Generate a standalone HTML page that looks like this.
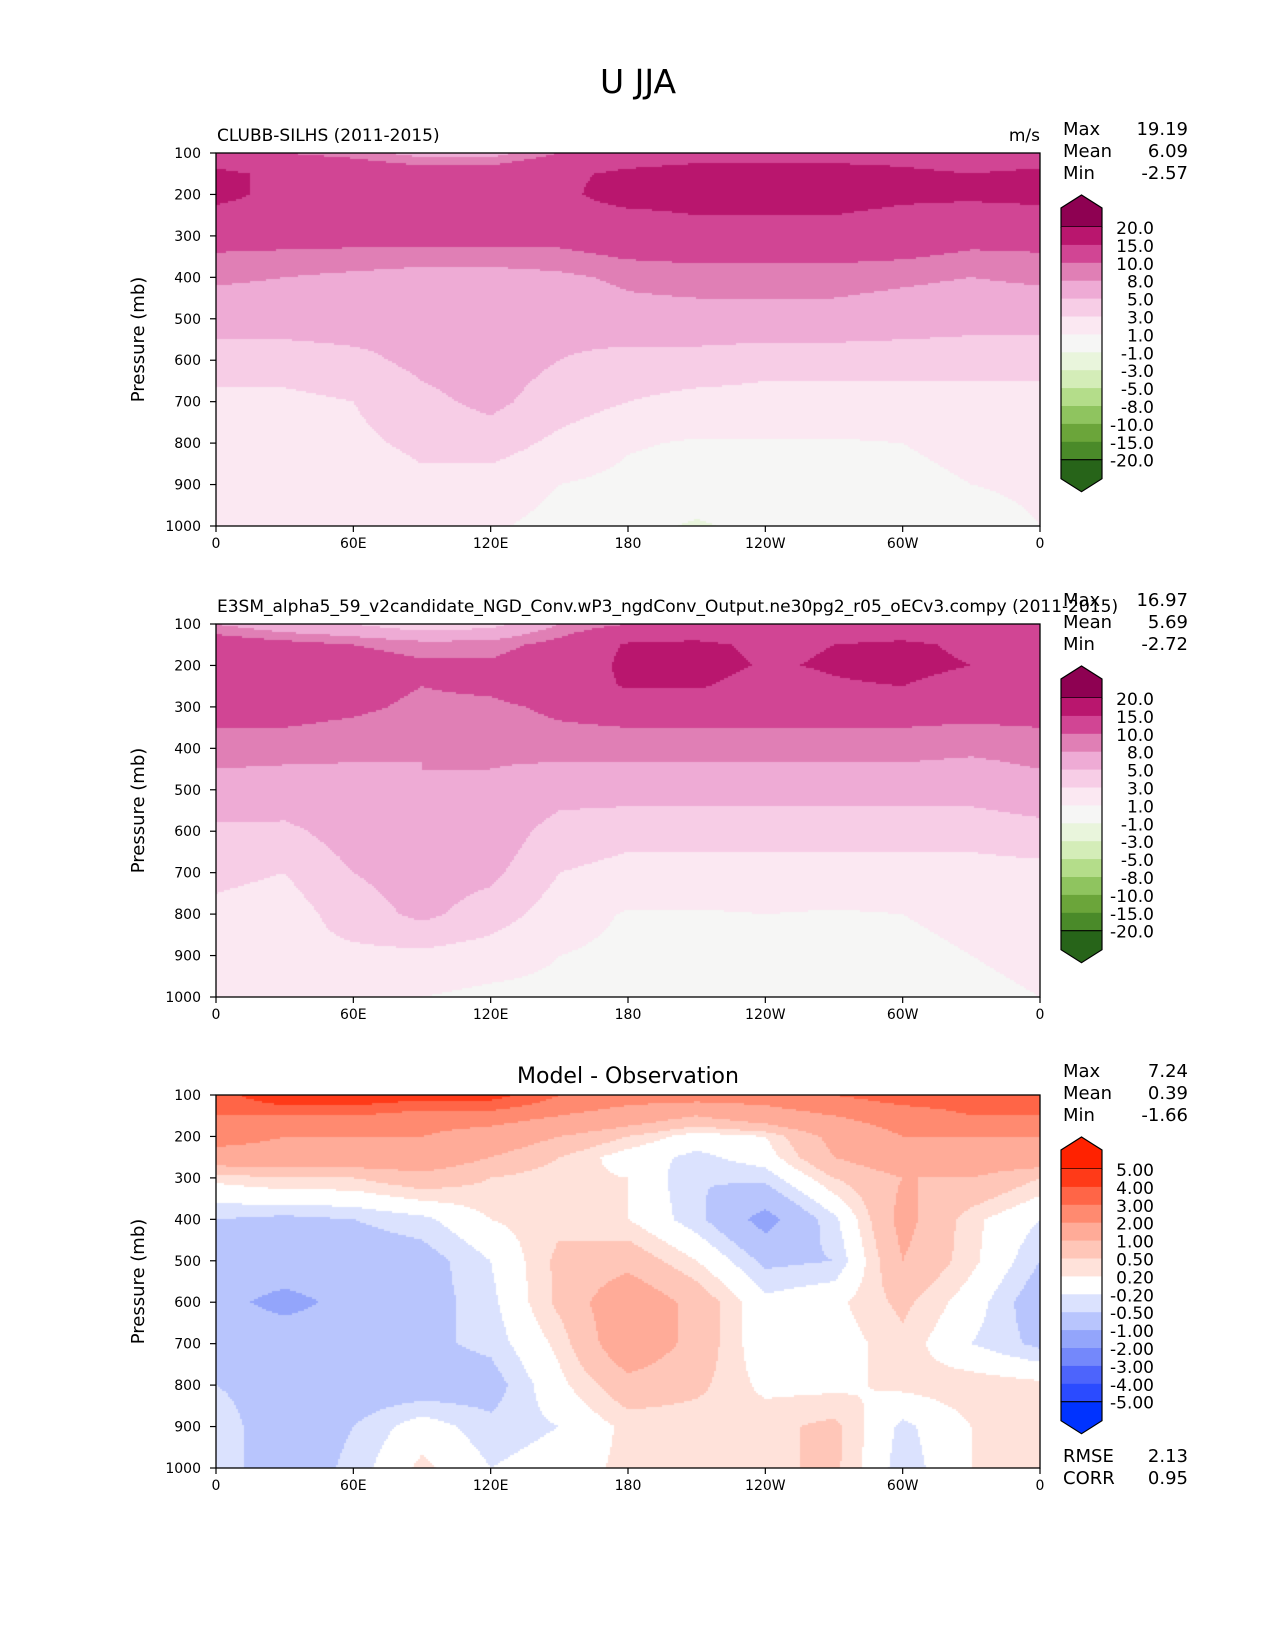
<!DOCTYPE html>
<html><head><meta charset="utf-8"><style>
html,body{margin:0;padding:0;background:#fff}
#wrap{position:relative;width:1275px;height:1650px;font-family:"DejaVu Sans","Liberation Sans",sans-serif}
canvas{position:absolute}
svg{position:absolute;left:0;top:0}
</style></head><body>
<div id="wrap">
<canvas id="c1" width="824" height="373" style="left:216px;top:153px"></canvas>
<canvas id="c2" width="824" height="373" style="left:216px;top:624px"></canvas>
<canvas id="c3" width="824" height="373" style="left:216px;top:1095px"></canvas>
<svg id="s" width="1275" height="1650"></svg>
</div>
<script>
const lons=[0,30,60,90,120,150,180,210,240,270,300,330,360];
const levels=[100,150,200,250,300,400,500,600,700,800,900,1000];
const xTickLabels=["0","60E","120E","180","120W","60W","0"];
const yTickLabels=["100","200","300","400","500","600","700","800","900","1000"];
const uLevels=[20,15,10,8,5,3,1,-1,-3,-5,-8,-10,-15,-20];
const uColors=["#8e0152","#b9166e","#d14594","#e07fb5","#eeabd5","#f7cde6","#fbe8f2","#f6f6f5","#e9f5dc","#d4edb8","#b4dd8a","#8fc45f","#6ba53a","#4a8a29","#276419"];
const dLevels=[5,4,3,2,1,0.5,0.2,-0.2,-0.5,-1,-2,-3,-4,-5];
const dColors=["#ff2200","#ff3a18","#ff6547","#ff8a70","#ffab98","#ffc6b8","#ffe2da","#ffffff","#dbe2fe","#b8c5fd","#93a5fb","#7488fb","#4d64fc","#2b4bff","#0033ff"];
const obs=[
[12,10,9,7,7,10,12,13,13,13,13,12,12],
[16,14,13,12,12,14,16,17,17,17,16,15,16],
[17,13,13,12,12,14,17,17,17,17,16,16,17],
[13,12,12,12,12,13,14,15,15,15,14,13,13],
[11,11,11,11,11,11,12,12,12,12,12,11,11],
[8.5,8,7.5,7,7,7.5,8.5,9,9,9,8.5,8,8.5],
[6,6,6,5.5,5.5,6,7,7,7,7,6.5,6,6],
[4,4,4.5,5.5,6,5,4,4,3.5,3.5,3.5,3.5,3.5],
[2.5,2.5,3,4.5,5.5,4,3,2.5,2.5,2.5,2.5,2.5,2.5],
[2,2,2.5,3.5,4,2.5,1.2,0.8,0.8,0.8,1,1.5,2],
[1.5,1.8,1.5,2.5,2,1,0.5,0,0,0.2,0.5,1,1.2],
[1.5,2.5,1,1.5,1.2,0.5,-0.5,-1.2,-0.5,0,-0.8,0.5,1]];
const model=[
[8,6,5,3,4,8,10,11,11,11,11,11,12],
[12,11,10,9,9,11,15.5,16,14,15,16,14,13],
[14,13,11.5,10.5,10.5,12,16,17,14.5,15.5,16.5,15,14],
[13,12.5,11,10,10.5,12,15.5,15.5,13,14.5,15,13,13],
[11,11,10.5,9.5,9.5,10.5,11,11,11,11,11,11,11],
[9,9,8.5,8,8.5,9,9,9,9,9,9,8.5,9],
[7,6.5,7,8,7.5,6,6,6,6,6,6,6,7],
[4.5,4.5,6,6.5,6.5,4,3.5,3.5,3.5,3.5,3.5,3.5,4],
[3.5,3,5,6,5.5,3,2.5,2.5,2.5,2.5,2.5,2.5,2.5],
[2.5,2,4,5.5,4,2,0.8,0.8,1,0.8,1,1.5,2],
[1.5,2.5,2.5,2.5,2,1,0.5,-0.5,-0.5,0,0.5,1,1.5],
[1.5,3,1,1,0.5,0.5,0,-1,-0.5,0,-0.5,0.5,1]];
const diff=[
[3.5,5,5,4.5,4.5,3,2.5,2.5,2.5,3,3.5,3.5,4],
[3,3,3,2.5,2.5,2,1.5,1,1.5,2,2.5,3,3],
[2.5,2,2,2,1.5,1,0.5,0,0.2,1.2,2,2,2],
[1.5,1.5,1.5,1.5,1,0.5,0,-0.3,0,1,1.5,1.5,1.5],
[0.3,0.5,0.5,0.8,0.5,0.3,0.2,-0.5,-0.4,0.5,1,1,0.5],
[-0.5,-0.6,-0.5,-0.3,0.2,0.4,0.2,-0.4,-1.2,-0.3,1.2,0.3,-0.2],
[-0.8,-0.8,-0.8,-0.7,-0.2,0.6,0.8,0.2,-0.6,-0.5,1,0.3,-0.5],
[-0.9,-1.1,-0.9,-0.7,-0.3,0.6,1.5,0.8,-0.1,0.1,0.6,0,-0.8],
[-0.8,-0.8,-0.8,-0.6,-0.4,0.3,1.5,0.8,-0.1,0,0.4,-0.2,-0.6],
[-0.5,-0.7,-0.8,-0.8,-0.7,0.1,0.8,0.6,0.1,0.1,0.3,0.4,0.3],
[-0.3,-0.8,-0.5,0,-0.4,-0.2,0.3,0.3,0.4,0.6,-0.3,0.2,0.3],
[-0.3,-0.8,-0.4,0.3,-0.2,0,0.3,0.3,0.4,0.6,-0.4,0.2,0.3]];
const statsObs=["19.19","6.09","-2.57"],statsModel=["16.97","5.69","-2.72"],statsDiff=["7.24","0.39","-1.66"];

const W=824,H=373;
function xs(lon){return lon/360*W}
function ys(p){return (p-100)/900*H}
function lonOf(px){return px/W*360}
function pOf(py){return 100+py/H*900}
function idx(arr,v){for(let i=0;i<arr.length-1;i++){if(v<=arr[i+1])return i}return arr.length-2}
function val(g,lon,p){const i=idx(lons,lon),j=idx(levels,p);
 const tx=(lon-lons[i])/(lons[i+1]-lons[i]),ty=(p-levels[j])/(levels[j+1]-levels[j]);
 return (g[j][i]*(1-tx)+g[j][i+1]*tx)*(1-ty)+(g[j+1][i]*(1-tx)+g[j+1][i+1]*tx)*ty}
function color(v,lv,cs){for(let k=0;k<lv.length;k++){if(v>=lv[k])return cs[k]}return cs[cs.length-1]}
function draw(id,g,lv,cs){const ctx=document.getElementById(id).getContext('2d');
 for(let py=0;py<H;py+=2)for(let px=0;px<W;px+=2){ctx.fillStyle=color(val(g,lonOf(px+1),pOf(py+1)),lv,cs);ctx.fillRect(px,py,2,2)}}
draw('c1',obs,uLevels,uColors);draw('c2',model,uLevels,uColors);draw('c3',diff,dLevels,dColors);

const NS="http://www.w3.org/2000/svg",svg=document.getElementById('s');
function el(t,a,txt){const e=document.createElementNS(NS,t);for(const k in a)e.setAttribute(k,a[k]);if(txt!==undefined)e.textContent=txt;svg.appendChild(e);return e}
let e=el('text',{x:638,y:93,'font-size':33,'text-anchor':'middle',fill:'#000'},'U JJA');


function panel(top,sub,name,stats,lv,cs,fmt){
 const L=216;
 e=el('rect',{x:L,y:top,width:W,height:H,fill:'none',stroke:'#000','stroke-width':1.3});
 
 xTickLabels.forEach((t,i)=>{const x=L+xs(i*60);el('line',{x1:x,x2:x,y1:top+H,y2:top+H+6,stroke:'#000','stroke-width':1.2});
  e=el('text',{x:x,y:top+H+22,'font-size':14,'text-anchor':'middle'},t);});
 yTickLabels.forEach((t,i)=>{const y=top+ys(100+i*100);el('line',{x1:L-6,x2:L,y1:y,y2:y,stroke:'#000','stroke-width':1.2});
  e=el('text',{x:L-15,y:y+5,'font-size':14,'text-anchor':'end'},t);});
 e=el('text',{x:0,y:0,'font-size':18,'text-anchor':'middle',transform:`translate(144,${top+H/2}) rotate(-90)`},'Pressure (mb)');
 
 sub.forEach(s=>{e=el('text',{x:s.x,y:top-12,'font-size':s.fs||17,'text-anchor':s.a||'start'},s.t);});
 ['Max','Mean','Min'].forEach((k,i)=>{const y=top-18+i*22;
  e=el('text',{x:1063,y:y,'font-size':18},k);
  e=el('text',{x:1188,y:y,'font-size':18,'text-anchor':'end'},stats[i]);});
 const bx=1061,bw=41,bh=17.9,tip=top+42,t0=tip+32,n=lv.length-1;
 e=el('polygon',{points:`${bx},${t0} ${bx},${tip+13} ${bx+bw/2},${tip} ${bx+bw},${tip+13} ${bx+bw},${t0}`,fill:cs[0],stroke:'#000','stroke-width':1.2});
 for(let k=0;k<n;k++){e=el('rect',{x:bx,y:t0+k*bh,width:bw,height:bh+0.5,fill:cs[k+1]});}
 const b0=t0+n*bh;
 e=el('polygon',{points:`${bx},${b0} ${bx},${b0+19} ${bx+bw/2},${b0+32} ${bx+bw},${b0+19} ${bx+bw},${b0}`,fill:cs[cs.length-1],stroke:'#000','stroke-width':1.2});
 el('line',{x1:bx,x2:bx,y1:t0,y2:b0,stroke:'#000','stroke-width':1.2});
 el('line',{x1:bx+bw,x2:bx+bw,y1:t0,y2:b0,stroke:'#000','stroke-width':1.2});
 lv.forEach((v,k)=>{const y=t0+k*bh;
  e=el('text',{x:1154,y:y+7,'font-size':17,'text-anchor':'end'},fmt(v));});
}
const f1=v=>v.toFixed(1),f2=v=>v.toFixed(2);
panel(153,[{x:217,t:'CLUBB-SILHS (2011-2015)',n:'obs-subtitle'},{x:1040,t:'m/s',a:'end',n:'units-label'}],'obs',statsObs,uLevels,uColors,f1);
panel(624,[{x:217,t:'E3SM_alpha5_59_v2candidate_NGD_Conv.wP3_ngdConv_Output.ne30pg2_r05_oECv3.compy (2011-2015)',n:'model-subtitle'}],'model',statsModel,uLevels,uColors,f1);
panel(1095,[{x:628,t:'Model - Observation',a:'middle',fs:22,n:'diff-title'}],'diff',statsDiff,dLevels,dColors,f2);
[['RMSE','2.13',1462],['CORR','0.95',1484]].forEach(r=>{
 e=el('text',{x:1063,y:r[2],'font-size':18},r[0]);
 e=el('text',{x:1188,y:r[2],'font-size':18,'text-anchor':'end'},r[1]);});
</script>
</body></html>
